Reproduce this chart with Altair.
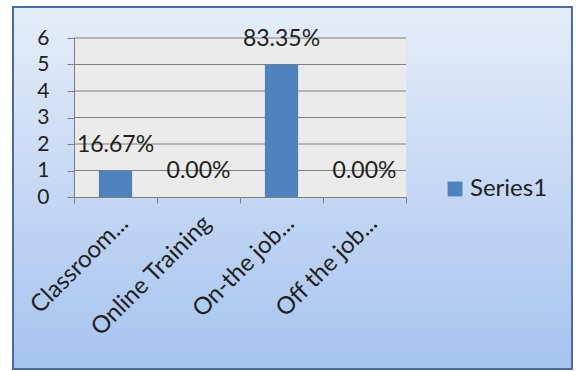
import altair as alt
import pandas as pd

categories = ["Classroom...", "Online Training", "On-the job...", "Off the job..."]
counts = [1, 0, 5, 0]
pct_labels = ["16.67%", "0.00%", "83.35%", "0.00%"]
series = ["Series1", "Series1", "Series1", "Series1"]
grid_values = [1, 2, 3, 4, 5, 6]
y_ticks = [0, 1, 2, 3, 4, 5, 6]

df = pd.DataFrame({"cat": categories, "count": counts, "label": pct_labels, "series": series})
grid_df = pd.DataFrame({"count": grid_values})

W, H = 332, 159
FONT = "Lato"
TXT = "#1f1f1f"
GRID = "#7f7f7f"

x_axis = alt.Axis(
    title=None, labelAngle=-45, labelAlign="right", labelBaseline="top",
    labelFontSize=24, labelFont=FONT, labelColor=TXT, labelPadding=8, labelLimit=0,
    tickBand="extent", tickSize=6, tickColor=GRID, domainColor=GRID, zindex=1,
)
x_enc = alt.X("cat:N", sort=categories, scale=alt.Scale(paddingInner=0, paddingOuter=0), axis=x_axis)

y_scale = alt.Scale(domain=[0, 6], nice=False)
y_axis = alt.Axis(
    title=None, values=y_ticks, grid=False, labelFontSize=21, labelFont=FONT,
    labelColor=TXT, labelPadding=18, tickSize=7, tickColor=GRID, domainColor=GRID, zindex=1,
)
y_enc = alt.Y("count:Q", scale=y_scale, axis=y_axis)

bg = alt.Chart(alt.Data(values=[{}])).mark_rect(
    fill=alt.LinearGradient(
        gradient="linear",
        stops=[alt.GradientStop(color="#e5edf9", offset=0), alt.GradientStop(color="#a6c3f0", offset=1)],
        x1=0, x2=0, y1=0, y2=1,
    ),
    stroke="#4b6c9c", strokeWidth=2,
).encode(x=alt.value(-61), x2=alt.value(498), y=alt.value(-31), y2=alt.value(331))

panel = alt.Chart(alt.Data(values=[{}])).mark_rect(fill="#ebebeb").encode(
    x=alt.value(0), x2=alt.value(W), y=alt.value(0), y2=alt.value(H)
)

grid = alt.Chart(grid_df).mark_rule(color=GRID, strokeWidth=1).encode(y=y_enc)

bars = alt.Chart(df).mark_bar(width=alt.RelativeBandSize(0.4), color="#4f81bd").encode(
    x=x_enc,
    y=y_enc,
    color=alt.Color(
        "series:N",
        scale=alt.Scale(range=["#4f81bd"]),
        legend=alt.Legend(
            title=None, orient="none", legendX=369, legendY=139, symbolType="square",
            symbolSize=220, symbolStrokeWidth=0, labelFontSize=24, labelFont=FONT,
            labelColor=TXT, padding=0, labelOffset=3,
        ),
    ),
)

text = alt.Chart(df).mark_text(
    fontSize=23, font=FONT, color=TXT, dy=-26, baseline="middle", align="center"
).encode(x=x_enc, y=y_enc, text="label:N")

chart = alt.layer(bg, panel, grid, bars, text).properties(
    width=W, height=H,
    padding={"left": 74, "top": 38, "right": 171, "bottom": 174},
    autosize=alt.AutoSizeParams(type="none"),
    background="white",
).configure_view(stroke=None)

chart.save("out.html", embed_options={"renderer": "svg", "actions": False})
